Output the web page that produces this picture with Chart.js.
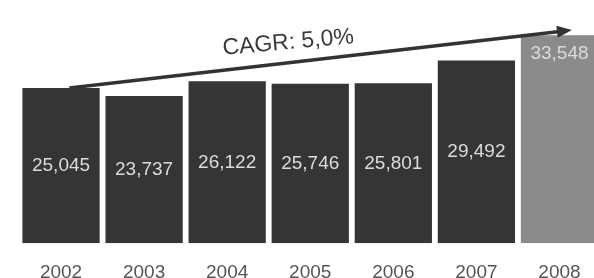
<!DOCTYPE html>
<html>
<head>
<meta charset="utf-8">
<script src="https://cdn.jsdelivr.net/npm/chart.js@4.4.1/dist/chart.umd.min.js"></script>
<style>
  html, body { margin: 0; padding: 0; background: #fff; overflow: hidden; }
  #wrap { width: 601px; height: 302px; position: relative; }
</style>
</head>
<body>
<div id="wrap"><canvas id="chart"></canvas></div>
<script>
const years = ["2002", "2003", "2004", "2005", "2006", "2007", "2008"];
const revenue = [25045, 23737, 26122, 25746, 25801, 29492, 33548];
const barColors = ["#353535", "#353535", "#353535", "#353535", "#353535", "#353535", "#8b8b8b"];
const labelSpot = ["center", "center", "center", "center", "center", "center", "top"];  // where the value sits in the bar
const cagrText = "CAGR: 5,0%";
const arrowFrom = [0.1, 25045];   // [category index, value]
const arrowTo = [6.15, 34400];

const ctx = document.getElementById("chart").getContext("2d");

// value labels inside the bars
const valueLabels = {
    id: "valueLabels",
    afterDatasetsDraw(chart) {
        const c = chart.ctx;
        const meta = chart.getDatasetMeta(0);
        c.save();
        c.font = "19px 'Liberation Sans', Arial, sans-serif";
        c.fillStyle = "#dcdcdc";
        c.textAlign = "center";
        c.textBaseline = "middle";
        meta.data.forEach((bar, i) => {
            let y = (bar.y + bar.base) / 2;
            if (labelSpot[i] === "top") y = bar.y + 18;
            c.fillText(revenue[i].toLocaleString("en-US"), bar.x, y);
        });
        c.restore();
    }
};

// growth arrow with the CAGR text over it
const cagrArrow = {
    id: "cagrArrow",
    afterDatasetsDraw(chart) {
        const c = chart.ctx;
        const xs = chart.scales.x, ys = chart.scales.y;
        const x1 = xs.getPixelForValue(arrowFrom[0]), y1 = ys.getPixelForValue(arrowFrom[1]);
        const x2 = xs.getPixelForValue(arrowTo[0]), y2 = ys.getPixelForValue(arrowTo[1]);
        const ang = Math.atan2(y2 - y1, x2 - x1);
        const len = Math.hypot(x2 - x1, y2 - y1);
        c.save();
        c.translate(x1, y1);
        c.rotate(ang);
        c.strokeStyle = "#333";
        c.fillStyle = "#333";
        c.lineWidth = 3.5;
        c.beginPath();
        c.moveTo(0, 0);
        c.lineTo(len - 12, 0);
        c.stroke();
        c.beginPath();
        c.moveTo(len, 0);
        c.lineTo(len - 15, -6);
        c.lineTo(len - 15, 6);
        c.closePath();
        c.fill();
        // label, a touch flatter than the arrow
        c.translate(len * 0.44, -20);
        c.rotate(0.025);
        c.font = "23px 'Liberation Sans', Arial, sans-serif";
        c.fillStyle = "#3a3a3a";
        c.textAlign = "center";
        c.textBaseline = "middle";
        c.fillText(cagrText, 0, 0);
        c.restore();
    }
};

new Chart(ctx, {
    type: "bar",
    data: {
        labels: years,
        datasets: [{
            data: revenue,
            backgroundColor: barColors,
            borderWidth: 0,
            barPercentage: 0.93,
            categoryPercentage: 1.0
        }]
    },
    options: {
        responsive: true,
        maintainAspectRatio: false,
        animation: false,
        events: [],
        layout: { padding: { left: 19.5, right: 0, top: 0, bottom: 0 } },
        plugins: { legend: { display: false }, tooltip: { enabled: false } },
        scales: {
            x: {
                grid: { display: false, drawTicks: false },
                border: { display: false },
                ticks: {
                    color: "#555",
                    font: { family: "'Liberation Sans', Arial, sans-serif", size: 19 },
                    padding: 18,
                    maxRotation: 0
                }
            },
            y: {
                display: false,
                min: 0,
                max: 39250
            }
        }
    },
    plugins: [valueLabels, cagrArrow]
});
</script>
</body>
</html>
